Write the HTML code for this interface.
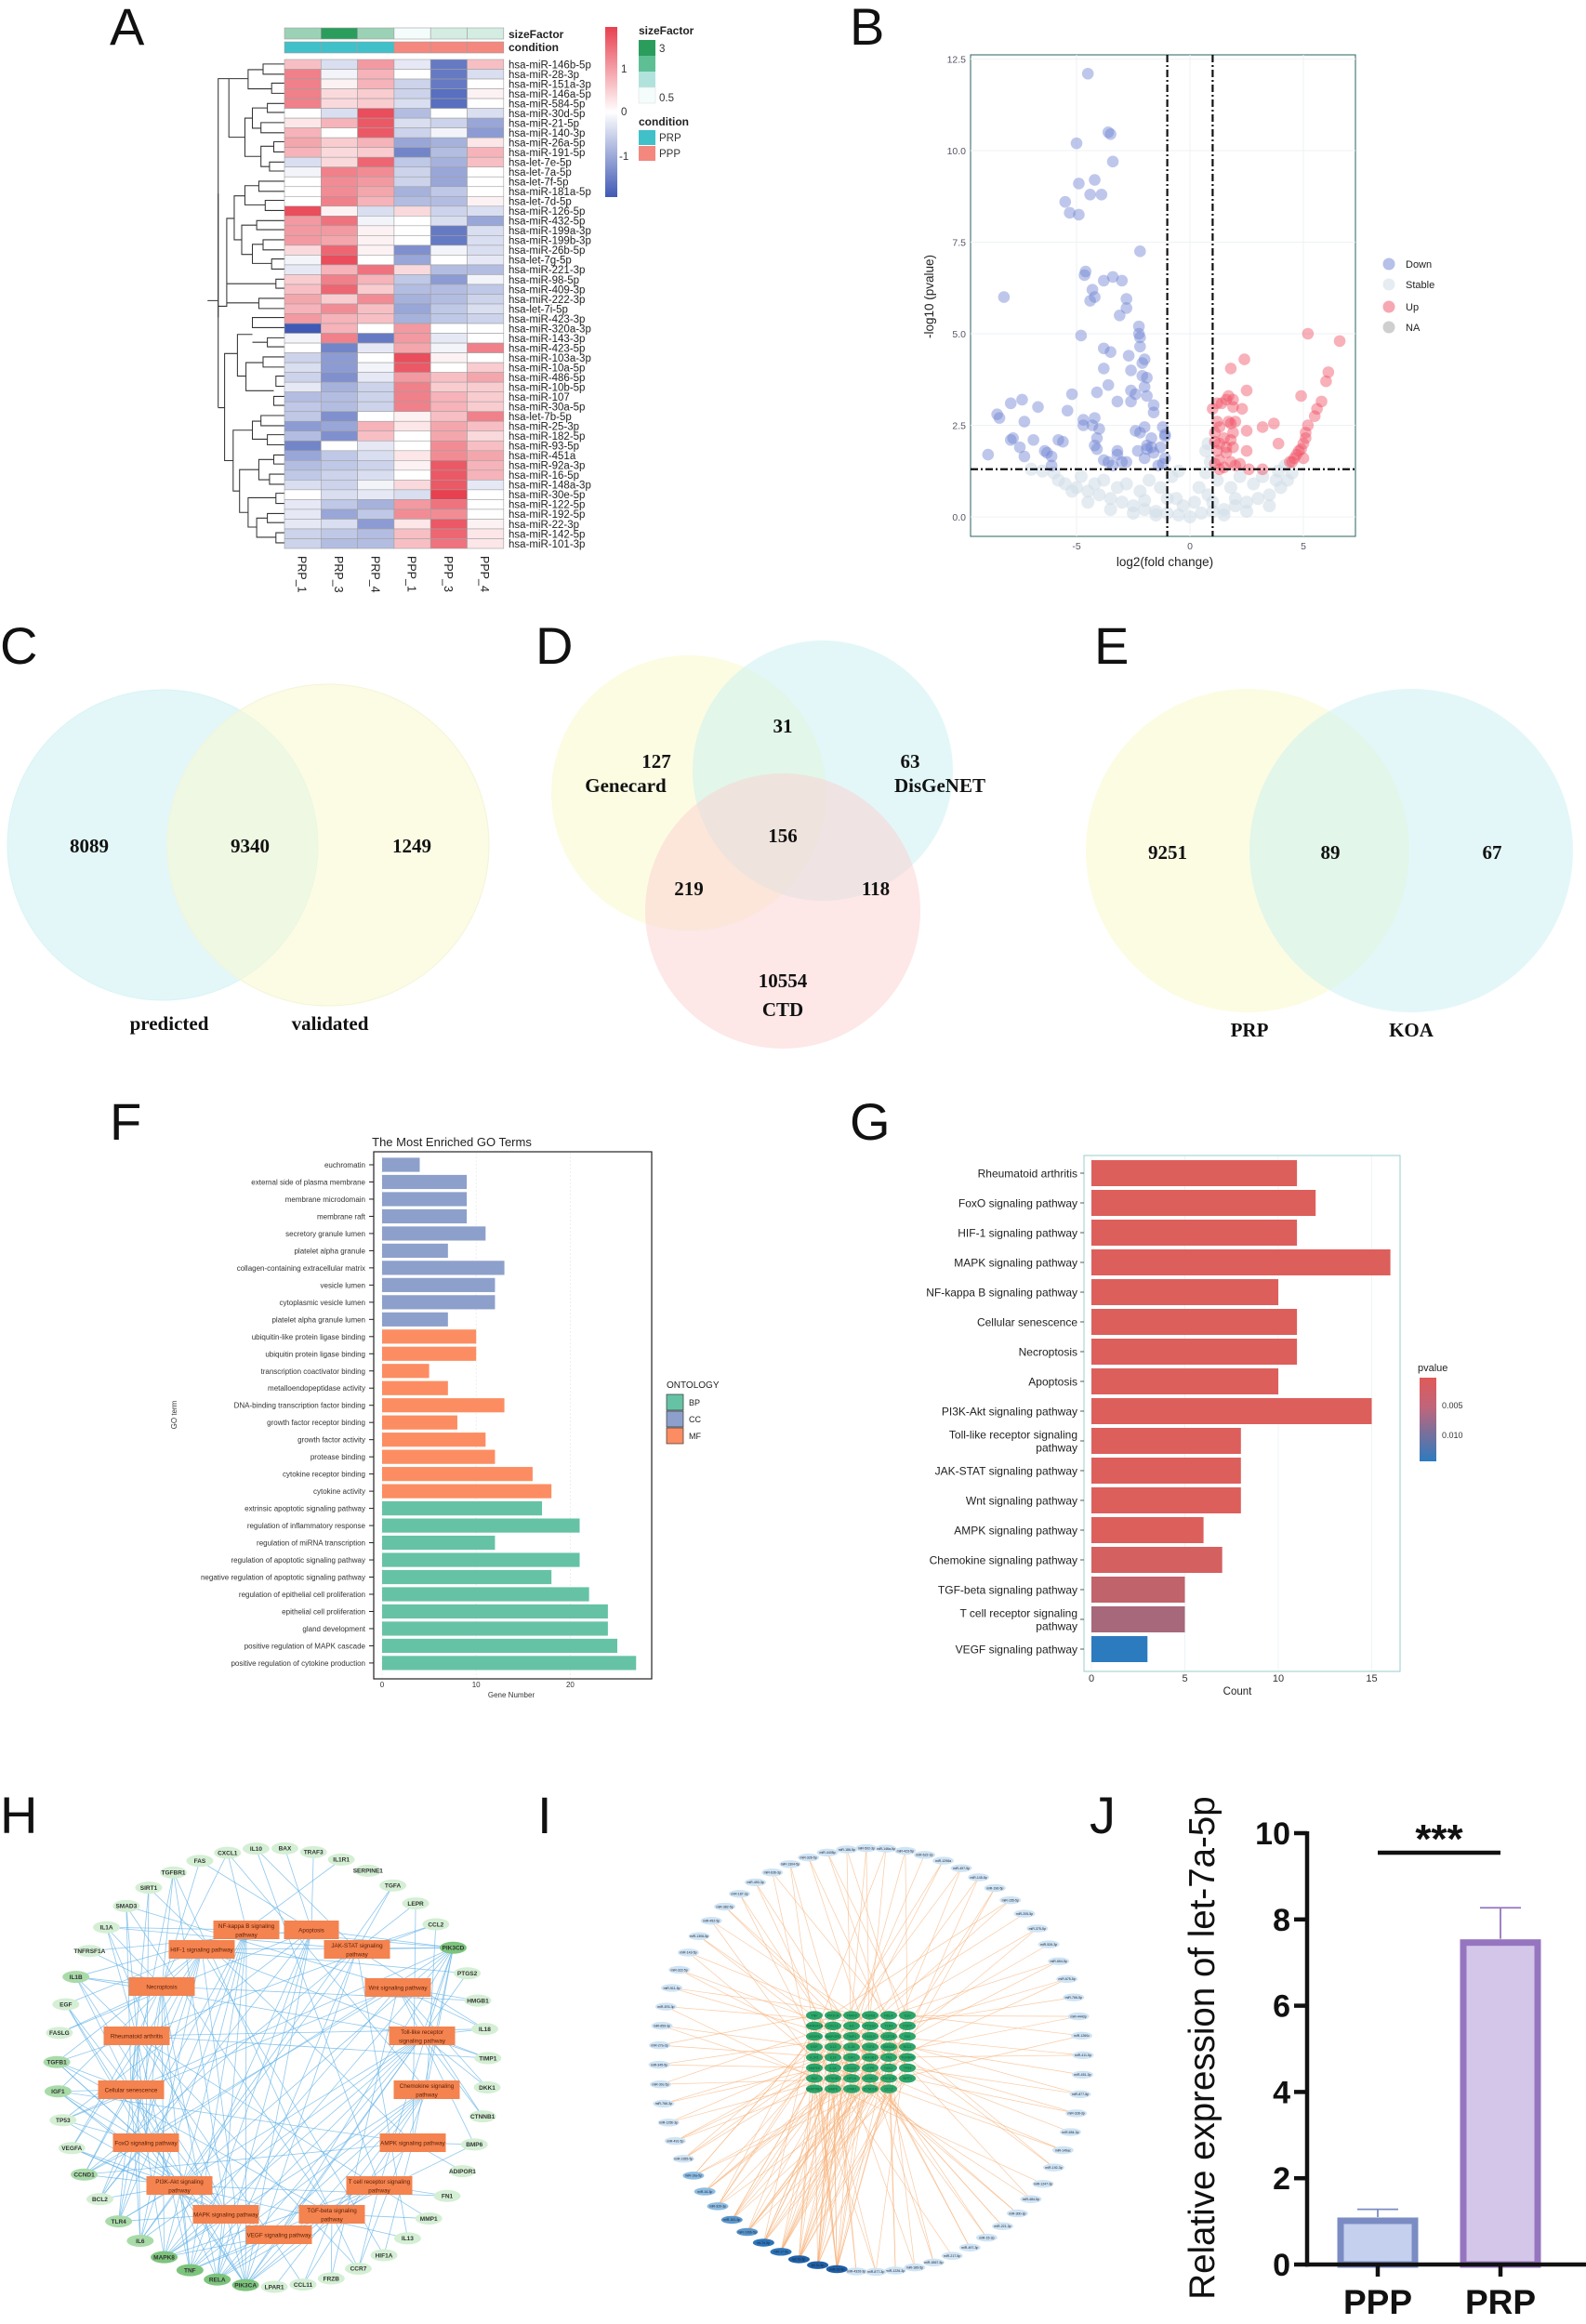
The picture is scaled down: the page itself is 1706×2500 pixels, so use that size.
<!DOCTYPE html>
<html><head><meta charset="utf-8"><title>Figure</title>
<style>
html,body{margin:0;padding:0;background:#fff;}
svg{display:block;font-family:"Liberation Sans",sans-serif;}
.pl{font-family:"Liberation Sans",sans-serif;font-size:56px;fill:#111;}
.vn{font-family:"Liberation Serif",serif;font-weight:bold;font-size:21px;fill:#111;}
</style></head>
<body>
<svg id="fig" width="1706" height="2500" viewBox="0 0 1706 2500" xmlns="http://www.w3.org/2000/svg">
<defs>
<linearGradient id="hmGrad" x1="0" y1="0" x2="0" y2="1"><stop offset="0" stop-color="#e8404f"/><stop offset="0.5" stop-color="#ffffff"/><stop offset="1" stop-color="#4059b5"/></linearGradient>
<linearGradient id="pvGrad" x1="0" y1="0" x2="0" y2="1"><stop offset="0" stop-color="#e05a58"/><stop offset="0.35" stop-color="#c0657a"/><stop offset="1" stop-color="#2d7bbf"/></linearGradient>
</defs>
<text class="pl" x="118" y="48">A</text>
<text class="pl" x="914" y="48">B</text>
<text class="pl" x="0" y="714">C</text>
<text class="pl" x="576" y="714">D</text>
<text class="pl" x="1177" y="714">E</text>
<text class="pl" x="118" y="1226">F</text>
<text class="pl" x="914" y="1226">G</text>
<text class="pl" x="0" y="1972">H</text>
<text class="pl" x="578" y="1972">I</text>
<text class="pl" x="1172" y="1972">J</text>

<g id="heatmap">
 <g id="dendro" fill="none" stroke="#333" stroke-width="0.9" transform="matrix(1.15,0,0,1.212,-29.8,2.2)">
  <path d="M292 55 H272 V64 H292 M292 72 H280 V81 H292 M280 77 H265 M272 60 H258 V77 H265 M258 68 H240 M292 90 H276 V98 H292 M292 107 H270 V116 H292 M276 94 H262 V112 H270 M292 124 H282 V133 H292 M292 142 H278 V150 H292 M282 128 H270 V146 H278 M270 137 H255 V103 H262 M255 120 H240 V68 H230 V280 M292 159 H268 V168 H292 M292 176 H274 V185 H292 M268 163 H255 V180 H274 M292 194 H266 V202 H292 M292 211 H272 V220 H292 M292 228 H280 V237 H292 M272 215 H262 V232 H280 M266 198 H252 V224 H262 M255 172 H245 V211 H252 M245 192 H238 V270 H230 M292 246 H284 V254 H292 M238 250 H284 M292 263 H268 V272 H292 M268 267 H238"/>
  <path d="M292 280 H262 V289 H292 M292 298 H276 V306 H292 M292 315 H272 V324 H292 M276 302 H262 M292 332 H284 V341 H292 M292 350 H282 V358 H292 M272 320 H256 V345 H282 M262 295 H248 V332 H256 M292 367 H270 V376 H292 M292 384 H276 V393 H292 M270 372 H262 V388 H276 M292 402 H282 V410 H292 M292 419 H278 V428 H292 M282 406 H268 V424 H278 M292 436 H284 V445 H292 M292 454 H276 V462 H292 M292 471 H284 V480 H292 M276 458 H266 V475 H284 M284 440 H258 V466 H266 M268 415 H250 V453 H258 M262 380 H244 V434 H250 M248 312 H236 V407 H244 M236 360 H230"/>
  <path d="M230 170 V360 M230 265 H220"/>
 </g>
 <g id="hmCells"></g>
 <g id="hmAnno"></g>
 <text x="547" y="41" font-size="12" font-weight="bold" fill="#222">sizeFactor</text>
 <text x="547" y="55" font-size="12" font-weight="bold" fill="#222">condition</text>
 <rect x="651" y="29" width="13" height="183" fill="url(#hmGrad)"/>
 <text x="668" y="78" font-size="11.5" fill="#333">1</text>
 <text x="668" y="124" font-size="11.5" fill="#333">0</text>
 <text x="666" y="172" font-size="11.5" fill="#333">-1</text>
 <g>
  <text x="687" y="37" font-size="12" font-weight="bold" fill="#222">sizeFactor</text>
  <rect x="687" y="43" width="18" height="17" fill="#2a9d5c"/>
  <rect x="687" y="60" width="18" height="17" fill="#5fbf94"/>
  <rect x="687" y="77" width="18" height="17" fill="#b1e3dc"/>
  <rect x="687" y="94" width="18" height="17" fill="#f4fcfc" stroke="#ddd" stroke-width="0.5"/>
  <text x="709" y="56" font-size="11.5" fill="#333">3</text>
  <text x="709" y="109" font-size="11.5" fill="#333">0.5</text>
 </g>
 <g>
  <text x="687" y="135" font-size="12" font-weight="bold" fill="#222">condition</text>
  <rect x="687" y="140" width="18" height="16" fill="#40c0c8"/>
  <rect x="687" y="157" width="18" height="16" fill="#f4877e"/>
  <text x="709" y="152" font-size="11.5" fill="#333">PRP</text>
  <text x="709" y="169" font-size="11.5" fill="#333">PPP</text>
 </g>
</g>

<g id="volcano">
 <rect x="1044" y="59" width="414" height="518" fill="#fff" stroke="#2a6060" stroke-width="1"/>
 <g id="vGrid"></g>
 <g id="vPts"></g>
 <g id="vAxes"></g>
 <text x="1253" y="609" font-size="13.5" text-anchor="middle" fill="#222">log2(fold change)</text>
 <text transform="translate(1004,319) rotate(-90)" font-size="13.5" text-anchor="middle" fill="#222">-log10 (pvalue)</text>
 <g font-size="11" fill="#222">
  <circle cx="1494" cy="284" r="6.5" fill="rgba(110,130,210,0.5)"/><text x="1512" y="288">Down</text>
  <circle cx="1494" cy="306" r="6.5" fill="rgba(213,223,232,0.6)"/><text x="1512" y="310">Stable</text>
  <circle cx="1494" cy="330" r="6.5" fill="rgba(240,80,100,0.5)"/><text x="1512" y="334">Up</text>
  <circle cx="1494" cy="352" r="6.5" fill="rgba(160,160,160,0.5)"/><text x="1512" y="356">NA</text>
 </g>
</g>

<g id="vennC">
 <circle cx="175" cy="909" r="167" fill="#c8f0f2" fill-opacity="0.5" stroke="#d8f4f5"/>
 <circle cx="353" cy="909" r="173" fill="#fafad0" fill-opacity="0.55" stroke="#f4f4d8"/>
 <text class="vn" x="96" y="917" text-anchor="middle">8089</text>
 <text class="vn" x="269" y="917" text-anchor="middle">9340</text>
 <text class="vn" x="443" y="917" text-anchor="middle">1249</text>
 <text class="vn" x="182" y="1108" text-anchor="middle">predicted</text>
 <text class="vn" x="355" y="1108" text-anchor="middle">validated</text>
</g>
<g id="vennD">
 <circle cx="741" cy="853" r="148" fill="#fafad0" fill-opacity="0.6"/>
 <circle cx="885" cy="829" r="140" fill="#c8f0f2" fill-opacity="0.5"/>
 <circle cx="842" cy="980" r="148" fill="#fcd0d0" fill-opacity="0.5"/>
 <text class="vn" x="842" y="788" text-anchor="middle">31</text>
 <text class="vn" x="706" y="826" text-anchor="middle">127</text>
 <text class="vn" x="673" y="852" text-anchor="middle">Genecard</text>
 <text class="vn" x="979" y="826" text-anchor="middle">63</text>
 <text class="vn" x="1011" y="852" text-anchor="middle">DisGeNET</text>
 <text class="vn" x="842" y="906" text-anchor="middle">156</text>
 <text class="vn" x="741" y="963" text-anchor="middle">219</text>
 <text class="vn" x="942" y="963" text-anchor="middle">118</text>
 <text class="vn" x="842" y="1062" text-anchor="middle">10554</text>
 <text class="vn" x="842" y="1093" text-anchor="middle">CTD</text>
</g>
<g id="vennE">
 <circle cx="1342" cy="915" r="174" fill="#fafad0" fill-opacity="0.6"/>
 <circle cx="1518" cy="915" r="174" fill="#c8f0f2" fill-opacity="0.5"/>
 <text class="vn" x="1256" y="924" text-anchor="middle">9251</text>
 <text class="vn" x="1431" y="924" text-anchor="middle">89</text>
 <text class="vn" x="1605" y="924" text-anchor="middle">67</text>
 <text class="vn" x="1344" y="1115" text-anchor="middle">PRP</text>
 <text class="vn" x="1518" y="1115" text-anchor="middle">KOA</text>
</g>

<g id="goChart">
 <text x="486" y="1233" font-size="13" text-anchor="middle" fill="#222">The Most Enriched GO Terms</text>
 <rect x="402" y="1239" width="299" height="567" fill="#fff" stroke="#222" stroke-width="1.2"/>
 <g id="goG"></g>
 <text x="550" y="1826" font-size="8" text-anchor="middle" fill="#333">Gene  Number</text>
 <text transform="translate(190,1522) rotate(-90)" font-size="8" text-anchor="middle" fill="#333">GO term</text>
 <g>
  <text x="717" y="1493" font-size="10" fill="#222">ONTOLOGY</text>
  <rect x="717" y="1500" width="18" height="17" fill="#66c2a5" stroke="#333" stroke-width="0.7"/>
  <rect x="717" y="1518" width="18" height="17" fill="#8da0cb" stroke="#333" stroke-width="0.7"/>
  <rect x="717" y="1536" width="18" height="17" fill="#fc8d62" stroke="#333" stroke-width="0.7"/>
  <text x="741" y="1512" font-size="9" fill="#222">BP</text>
  <text x="741" y="1530" font-size="9" fill="#222">CC</text>
  <text x="741" y="1548" font-size="9" fill="#222">MF</text>
 </g>
</g>

<g id="keggChart">
 <rect x="1166" y="1243" width="340" height="555" fill="#fff" stroke="#9cc" stroke-width="1"/>
 <g id="keggG"></g>
 <text x="1331" y="1823" font-size="11.5" text-anchor="middle" fill="#222">Count</text>
 <g>
  <text x="1525" y="1475" font-size="11" fill="#222">pvalue</text>
  <rect x="1527" y="1482" width="18" height="90" fill="url(#pvGrad)"/>
  <text x="1551" y="1515" font-size="9" fill="#333">0.005</text>
  <text x="1551" y="1547" font-size="9" fill="#333">0.010</text>
 </g>
</g>

<g id="netH"></g>
<g id="netI"></g>

<g id="barJ">
 <g id="jG"></g>
 <text transform="translate(1306,2203) rotate(-90)" font-size="38.5" text-anchor="middle" fill="#111">Relative expression of let-7a-5p</text>
</g>

<script>
const NS='http://www.w3.org/2000/svg';
function mk(tag,attrs,parent){const e=document.createElementNS(NS,tag);for(const k in attrs)e.setAttribute(k,attrs[k]);parent.appendChild(e);return e;}

const hmRows=['hsa-miR-146b-5p','hsa-miR-28-3p','hsa-miR-151a-3p','hsa-miR-146a-5p','hsa-miR-584-5p','hsa-miR-30d-5p','hsa-miR-21-5p','hsa-miR-140-3p','hsa-miR-26a-5p','hsa-miR-191-5p','hsa-let-7e-5p','hsa-let-7a-5p','hsa-let-7f-5p','hsa-miR-181a-5p','hsa-let-7d-5p','hsa-miR-126-5p','hsa-miR-432-5p','hsa-miR-199a-3p','hsa-miR-199b-3p','hsa-miR-26b-5p','hsa-let-7g-5p','hsa-miR-221-3p','hsa-miR-98-5p','hsa-miR-409-3p','hsa-miR-222-3p','hsa-let-7i-5p','hsa-miR-423-3p','hsa-miR-320a-3p','hsa-miR-143-3p','hsa-miR-423-5p','hsa-miR-103a-3p','hsa-miR-10a-5p','hsa-miR-486-5p','hsa-miR-10b-5p','hsa-miR-107','hsa-miR-30a-5p','hsa-let-7b-5p','hsa-miR-25-3p','hsa-miR-182-5p','hsa-miR-93-5p','hsa-miR-451a','hsa-miR-92a-3p','hsa-miR-16-5p','hsa-miR-148a-3p','hsa-miR-30e-5p','hsa-miR-122-5p','hsa-miR-192-5p','hsa-miR-22-3p','hsa-miR-142-5p','hsa-miR-101-3p'];
const hmCols=['PRP_1','PRP_3','PRP_4','PPP_1','PPP_3','PPP_4'];
const hmValues=[
[0.5,-0.3,0.8,-0.2,-1.2,0.5],[1,-0.1,0.6,0,-1.2,-0.3],[1,0.1,0.6,-0.4,-1.2,0],[1,0.3,0.4,-0.4,-1.3,0.1],[1,0.3,0.4,-0.3,-1.3,0],
[0,-0.3,1.4,-0.6,0,-0.3],[0.2,0.6,1.3,-0.3,-0.4,-0.8],[0.6,0,1.3,-0.4,-0.1,-0.9],[0.7,0.4,0.6,-0.8,-0.7,0.2],[0.6,0.3,0.4,-1.1,-0.6,0.6],
[-0.3,0.3,1.2,-0.5,-0.7,0.5],[-0.1,1,0.9,-0.4,-0.8,0],[0,0.9,0.8,-0.4,-0.8,0],[0,0.9,0.7,-0.7,-0.5,0],[0,1,0.6,-0.6,-0.6,0.1],
[1.4,0.1,-0.3,0.3,-0.4,-0.3],[0.8,1.1,-0.1,0,-0.3,-0.8],[0.8,0.8,0.1,0,-1.2,-0.3],[0.8,0.7,0.1,0,-1.2,-0.3],[0.3,1.2,0.1,-1,-0.1,-0.3],
[-0.1,1.4,0,-0.8,0,-0.2],[-0.2,0.6,1.1,0.3,-0.6,-0.6],[0.4,1,0.6,-0.5,-0.9,-0.1],[0.5,1.2,0.4,-0.6,-0.6,-0.5],[0.7,0.4,0.9,-0.7,-0.6,-0.4],
[0.6,0.9,0.5,-0.8,-0.5,-0.3],[0.8,0.6,0.5,-0.7,-0.5,-0.4],[-1.5,0.6,0,0.8,0,0],[-0.1,1,-1.2,0.8,-0.2,0],[0,-1.1,-0.2,0.7,-0.1,1],
[-0.4,-0.9,0,1.4,0.1,0],[-0.3,-0.9,-0.1,1.3,0,0.4],[-0.4,-1,-0.2,0.8,0.5,0.7],[-0.2,-0.7,-0.4,1,0.4,0.4],[-0.6,-0.6,-0.4,1,0.6,0.4],
[-0.5,-0.6,-0.4,1,0.6,0.4],[-0.5,-1,0,0.1,0.5,1],[-0.9,-0.8,0.6,0.2,0.7,0.5],[-0.6,-1,0.5,0,0.7,0.3],[-1.1,0,-0.2,0,0.9,0.5],
[-0.8,-0.5,-0.3,0.2,0.9,0.7],[-0.6,-0.5,-0.4,0.1,1.3,0.6],[-0.5,-0.4,-0.3,0,1.3,0.6],[-0.3,-0.4,-0.1,0.3,1.3,-0.2],[0,-0.3,-0.2,-0.3,1.5,0],
[-0.2,-0.5,-0.7,0.8,1.1,0],[-0.2,-0.8,-0.5,0.9,0.9,0],[-0.2,-0.3,-0.9,0.2,1.3,0.1],[-0.4,-0.5,-0.6,0.5,1.2,0.2],[-0.4,-0.6,-0.6,0.5,1.1,0.2]];
const hmSizeFactor=[1.6,3,1.6,0.5,0.9,0.9];

const volDown=[[-4.5,12.1],[-3.6,10.5],[-3.5,10.45],[-5,10.2],[-3.4,9.7],[-4.2,9.2],[-4.9,9.1],[-4.4,8.8],[-3.9,8.8],[-5.5,8.6],[-5.3,8.3],[-4.9,8.25],[-2.2,7.25],[-4.6,6.7],[-4.65,6.6],[-3.4,6.55],[-3.8,6.45],[-3.0,6.45],[-4.3,6.2],[-4.2,6.0],[-4.4,5.9],[-8.2,6.0],[-2.8,5.95],[-2.8,5.7],[-3.1,5.5],[-2.25,5.2],[-2.25,5.0],[-2.2,4.9],[-4.8,4.95],[-2.2,4.65],[-3.8,4.6],[-3.5,4.5],[-2.7,4.4],[-2,4.3],[-2.1,4.2],[-3.8,4.05],[-2.6,4.0],[-2.1,3.85],[-1.9,3.8],[-3.6,3.6],[-2,3.55],[-4.1,3.4],[-5.2,3.35],[-2.6,3.45],[-2.4,3.35],[-1.9,3.3],[-3.2,3.15],[-2.6,3.15],[-7.4,3.2],[-7.9,3.1],[-1.6,3.05],[-6.7,3.0],[-5.4,2.9],[-1.6,2.85],[-8.5,2.8],[-8.4,2.7],[-4.7,2.65],[-4.2,2.7],[-7.3,2.6],[-4.7,2.5],[-4.3,2.5],[-1.2,2.45],[-2,2.45],[-4.0,2.4],[-2.4,2.35],[-2.2,2.3],[-1.1,2.25],[-1.1,2.2],[-4.1,2.15],[-1.7,2.15],[-7.8,2.15],[-7.9,2.1],[-6.9,2.1],[-5.8,2.1],[-5.6,2.05],[-4.2,1.95],[-1.9,1.95],[-1.7,1.9],[-1.3,1.9],[-7.5,1.9],[-4.1,1.85],[-1.9,1.85],[-2.3,1.8],[-6.4,1.8],[-6.3,1.75],[-3.2,1.8],[-1.6,1.75],[-3.2,1.7],[-8.9,1.7],[-7.3,1.65],[-6.1,1.65],[-2.0,1.6],[-1.1,1.6],[-3.0,1.5],[-2.8,1.5],[-3.8,1.55],[-3.6,1.5],[-6.1,1.4],[-3.4,1.4],[-1.4,1.4],[-1.2,1.45]];
const volUp=[[5.2,5.0],[6.6,4.8],[2.4,4.3],[1.8,4.05],[6.1,3.95],[6.0,3.7],[2.5,3.45],[4.9,3.3],[1.7,3.3],[1.6,3.2],[1.9,3.2],[1.2,3.1],[1.4,3.1],[5.8,3.15],[1.9,3.0],[2.3,2.95],[5.6,2.95],[1.0,2.95],[5.5,2.75],[2.0,2.6],[1.2,2.6],[1.7,2.6],[1.8,2.55],[3.7,2.55],[5.2,2.5],[1.3,2.45],[3.2,2.45],[2.5,2.35],[1.1,2.3],[1.9,2.3],[5.1,2.3],[5.1,2.15],[1.5,2.15],[1.8,2.1],[1.1,2.05],[1.3,2.0],[3.9,2.0],[5.0,2.0],[1.6,1.9],[1.9,1.9],[4.9,1.85],[4.8,1.8],[1.2,1.8],[2.5,1.8],[1.6,1.75],[4.7,1.7],[4.6,1.6],[5.0,1.6],[1.3,1.55],[4.5,1.5],[4.4,1.5],[1.8,1.5],[2.2,1.45],[1.1,1.45],[2.0,1.4],[1.5,1.35],[3.2,1.3],[2.6,1.3],[1.3,1.3]];
const volStable=[[-6,1.2],[-5.5,0.9],[-5,0.8],[-4.5,0.7],[-4,0.6],[-3.5,0.5],[-3,0.4],[-2.5,0.3],[-2,0.2],[-1.5,0.15],[-1,0.1],[-0.5,0.05],[0,0],[0.5,0.1],[1,0.15],[1.5,0.2],[2,0.3],[2.5,0.4],[3,0.5],[3.5,0.6],[4,0.8],[4.3,1.0],[4.5,1.2],[-5.8,1.0],[-5.2,0.7],[-4.8,1.1],[-4.2,0.9],[-3.8,1.0],[-3.2,0.8],[-2.8,0.9],[-2.2,0.7],[-1.8,1.0],[-1.3,0.8],[-0.8,1.1],[-0.6,0.5],[-0.3,0.3],[0.2,0.4],[0.4,0.8],[0.7,1.2],[0.8,0.6],[1.2,1.0],[1.8,0.8],[2.2,1.1],[2.8,0.9],[3.2,1.1],[3.8,1.0],[-4.5,0.4],[-3.5,0.2],[-2.5,0.1],[-1.5,0.05],[1.5,0.05],[2.5,0.15],[3.5,0.3],[-6.5,1.25],[-7,1.3],[0.9,1.5],[0.7,1.8],[0.8,2.0],[-0.5,1.25],[3.9,1.25],[4.2,1.4],[-1.0,0.5],[1.0,0.4],[-2,0.45],[2,0.5]];
const volYTicks=[0,2.5,5,7.5,10,12.5];
const volYTickLabels=['0.0','2.5','5.0','7.5','10.0','12.5'];
const volXTicks=[-5,0,5];

const goTerms=['euchromatin','external side of plasma membrane','membrane microdomain','membrane raft','secretory granule lumen','platelet alpha granule','collagen-containing extracellular matrix','vesicle lumen','cytoplasmic vesicle lumen','platelet alpha granule lumen','ubiquitin-like protein ligase binding','ubiquitin protein ligase binding','transcription coactivator binding','metalloendopeptidase activity','DNA-binding transcription factor binding','growth factor receptor binding','growth factor activity','protease binding','cytokine receptor binding','cytokine activity','extrinsic apoptotic signaling pathway','regulation of inflammatory response','regulation of miRNA transcription','regulation of apoptotic signaling pathway','negative regulation of apoptotic signaling pathway','regulation of epithelial cell proliferation','epithelial cell proliferation','gland development','positive regulation of MAPK cascade','positive regulation of cytokine production'];
const goCounts=[4,9,9,9,11,7,13,12,12,7,10,10,5,7,13,8,11,12,16,18,17,21,12,21,18,22,24,24,25,27];
const goOntology=['CC','CC','CC','CC','CC','CC','CC','CC','CC','CC','MF','MF','MF','MF','MF','MF','MF','MF','MF','MF','BP','BP','BP','BP','BP','BP','BP','BP','BP','BP'];
const goXTicks=[0,10,20];

const keggTerms=['Rheumatoid arthritis','FoxO signaling pathway','HIF-1 signaling pathway','MAPK signaling pathway','NF-kappa B signaling pathway','Cellular senescence','Necroptosis','Apoptosis','PI3K-Akt signaling pathway','Toll-like receptor signaling|pathway','JAK-STAT signaling pathway','Wnt signaling pathway','AMPK signaling pathway','Chemokine signaling pathway','TGF-beta signaling pathway','T cell receptor signaling|pathway','VEGF signaling pathway'];
const keggCounts=[11,12,11,16,10,11,11,10,15,8,8,8,6,7,5,5,3];
const keggPvalues=[0.001,0.001,0.001,0.001,0.001,0.001,0.001,0.001,0.001,0.001,0.001,0.001,0.001,0.0015,0.003,0.005,0.014];
const keggXTicks=[0,5,10,15];

const jGroups=['PPP','PRP'];
const jMeans=[1.1,7.55];
const jErrors=[0.18,0.72];
const jYTicks=[0,2,4,6,8,10];

const hGenes=['CXCL1','IL10','BAX','TRAF3','IL1R1','SERPINE1','TGFA','LEPR','CCL2','PIK3CD','PTGS2','HMGB1','IL18','TIMP1','DKK1','CTNNB1','BMP6','ADIPOR1','FN1','MMP1','IL13','HIF1A','CCR7','FRZB','CCL11','LPAR1','PIK3CA','RELA','TNF','MAPK8','IL6','TLR4','BCL2','CCND1','VEGFA','TP53','IGF1','TGFB1','FASLG','EGF','IL1B','TNFRSF1A','IL1A','SMAD3','SIRT1','TGFBR1','FAS'];
const hPathways=['NF-kappa B signaling|pathway','Apoptosis','HIF-1 signaling pathway','JAK-STAT signaling|pathway','Necroptosis','Wnt signaling pathway','Rheumatoid arthritis','Toll-like receptor|signaling pathway','Cellular senescence','Chemokine signaling|pathway','FoxO signaling pathway','AMPK signaling pathway','PI3K-Akt signaling|pathway','T cell receptor signaling|pathway','MAPK signaling pathway','TGF-beta signaling|pathway','VEGF signaling pathway'];
const hPathPos=[[265,2076],[335,2076],[217,2097],[384,2097],[174,2137],[428,2138],[147,2190],[454,2190],[141,2248],[459,2248],[157,2305],[444,2305],[193,2351],[408,2351],[243,2382],[357,2382],[300,2404]];
const hLinks=[[0,27,28,30,40,31,32,9,26,29,42,4],[2,3,28,27,46,38,32,35,41,26,9,29],[21,34,26,9,30,39,36,31,33,32,37,10,13],[1,30,7,8,26,9,20,33,6,12,42,27],[28,41,46,38,40,42,29,31,11,27],[15,14,23,33,29,35,16,43,11,12],[0,8,24,40,42,30,28,31,22,34,12,13,19,37],[28,30,40,31,26,9,27,29,12,13,14,15],[35,33,26,9,37,43,45,44,36,30,27,40],[0,8,24,22,26,9,27,29,25,28],[26,9,37,45,43,44,36,33,39,29,32,35],[7,17,26,9,44,33,36,16,21],[26,9,34,39,36,33,32,35,31,28,30,6,18,20],[28,26,9,27,29,1,22,18],[28,40,42,29,26,9,27,31,37,45,39,34,36],[37,45,43,28,16,19,23,24,22],[34,26,9,10,29,27]];

const iMirnas=['miR-146a-5p','miR-423-5p','miR-622-3p','miR-1296a','miR-497-5p','miR-145-5p','miR-196-5p','miR-155-5p','miR-205-5p','miR-375-5p','miR-526-3p','miR-654-5p','miR-675-5p','miR-766-5p','miR-4443p','miR-1260c','miR-411-5p','miR-451-3p','miR-877-5p','miR-328-3p','miR-654-3p','miR-149ac','miR-192-3p','miR-1247-3p','miR-484-5p','miR-30b-3p','miR-221-3p','miR-15-3p','miR-497-3p','miR-217-5p','miR-4567-5p','miR-185-5p','miR-1226-3p','miR-877-3p','miR-4326-3p','miR-16-5p','let-7c-5p','let-7a-5p','miR-17-5p','let-7e-5p','miR-106b-5p','miR-181-5p','miR-320-3p','miR-16-3p','miR-19a-5p','miR-2355-5p','miR-491-5p','miR-125b-3p','miR-766-3p','miR-30c-5p','miR-345-5p','miR-27a-3p','miR-659-3p','miR-876-3p','miR-511-5p','miR-322-5p','miR-143-5p','miR-1306-5p','miR-452-5p','miR-382-5p','miR-187-3p','miR-490-3p','miR-636-3p','miR-1304-5p','miR-326-5p','miR-4435p','miR-186-5p','miR-502-3p'];
const iTargets=[[3,12],[5,20],[8],[14,30],[2,22],[9,17],[11,40],[6,25],[13],[19,33],[21],[27,4],[15,38],[10],[1,30],[5,44],[16,28],[23],[7,35],[12,41],[20],[18,31],[29,3],[36],[24,9],[32,45],[0,26],[14,39],[8,27],[37],[2,46],[22,13],[10,34],[6,17,42],[25,1],
[0,3,7,12,18,22,27,31,36,40,44,5],[2,8,13,19,24,29,33,38,43,46],[1,6,11,16,21,26,30,35,41,45,9],[4,10,15,20,25,28,34,39,42],[0,5,9,14,23,32,37,46],[3,7,17,22,28,33,41],[2,11,19,26,31,40],[6,13,24,35,43],[8,16,27,38],[1,12,29,45],[4,18,36],[10,21,42],
[15,33],[20,27],[7,39],[14,31],[0,25],[18,44],[11,36],[3,29],[22,40],[9,24],[6,34],[16,43],[1,28],[13,37],[19,46],[4,30],[12,38],[21,35],[5,41],[17,26],[2,45]];
const iGenes=['TNF','PIK3CA','TRAF3','TGFB1','RELA','IL10','TNFRSF1A','CXCL1','IL6','PTGS2','TLR4','CCR7','VEGFA','ADIPOR1','TIMP1','FASLG','CCR7B','FAS','EGF','IL13','IL1B','TGFA','SMAD3','BCL2','IL1R1','IL18','IGF1','HMGB1','FN1','TGFBR1','MAPK8','IL1A','CCL11','LEPR','DKK1','TP53','BAX','CTNNB1','HIF1A','CCND1','PIK3CD','SIRT1','SERPINE1','BMP6','LPAR1','CCND1B','CCL2'];

(function(){
 const g=document.getElementById('hmCells');const a=document.getElementById('hmAnno');
 const x0=306,cw=39.3,y0=64,rh=10.52;
 function col(v){const t=Math.min(Math.abs(v)/1.5,1);const c=v>=0?[232,64,79]:[64,89,181];
  const r=Math.round(255+(c[0]-255)*t),gg=Math.round(255+(c[1]-255)*t),b=Math.round(255+(c[2]-255)*t);return `rgb(${r},${gg},${b})`;}
 function sf(v){const t=Math.min((v-0.5)/2.5,1);const r=Math.round(244+(42-244)*t),gg=Math.round(252+(157-252)*t),b=Math.round(252+(92-252)*t);return `rgb(${r},${gg},${b})`;}
 hmRows.forEach((name,i)=>{
  hmCols.forEach((c,j)=>{
   const r=mk('rect',{x:x0+j*cw,y:y0+i*rh,width:cw,height:rh,fill:col(hmValues[i][j]),stroke:'#a0a0a0','stroke-width':0.6},g);
   
   
  });
  const t=mk('text',{x:547,y:y0+i*rh+rh-1.2,'font-size':11.5,fill:'#222'},g);
  t.textContent=name;
  
  
 });
 hmCols.forEach((c,j)=>{
  const s=mk('rect',{x:x0+j*cw,y:30,width:cw,height:12,fill:sf(hmSizeFactor[j]),stroke:'#a0a0a0','stroke-width':0.6},a);
  
  
  const k=mk('rect',{x:x0+j*cw,y:45,width:cw,height:12,fill:c.startsWith('PRP')?'#40c0c8':'#f4877e',stroke:'#a0a0a0','stroke-width':0.6},a);
  
  
  const t=mk('text',{transform:`translate(${x0+j*cw+cw/2-5},598) rotate(90)`,'font-size':12.5,fill:'#222'},a);
  t.textContent=c;
  
  
 });
})();

(function(){
 const px=x=>1280+x*24.4, py=y=>556-y*39.4;
 const gr=document.getElementById('vGrid'),pt=document.getElementById('vPts'),ax=document.getElementById('vAxes');
 volYTicks.forEach((v,i)=>{
  const l=mk('line',{x1:1044,x2:1458,y1:py(v),y2:py(v),stroke:'#eef2f4','stroke-width':1},gr);
  
  
  const t=mk('text',{x:1039,y:py(v)+4,'font-size':10.5,'text-anchor':'end',fill:'#556'},ax);
  t.textContent=volYTickLabels[i];
  
  
 });
 volXTicks.forEach(v=>{
  const l=mk('line',{x1:px(v),x2:px(v),y1:59,y2:577,stroke:'#eef2f4','stroke-width':1},gr);
  
  
  const t=mk('text',{x:px(v),y:591,'font-size':10.5,'text-anchor':'middle',fill:'#556'},ax);
  t.textContent=String(v);
  
  
 });
 volStable.forEach(p=>{const c=mk('circle',{cx:px(p[0]),cy:py(p[1]),r:7,fill:'rgba(210,222,232,0.6)'},pt);
  
  });
 volDown.forEach(p=>{const c=mk('circle',{cx:px(p[0]),cy:py(p[1]),r:6.3,fill:'rgba(110,130,210,0.45)'},pt);
  
  });
 volUp.forEach(p=>{const c=mk('circle',{cx:px(p[0]),cy:py(p[1]),r:6.3,fill:'rgba(240,80,100,0.45)'},pt);
  
  });
 [-1,1].forEach(v=>{const l=mk('line',{x1:px(v),x2:px(v),y1:59,y2:577,stroke:'#111','stroke-width':2.2,'stroke-dasharray':'8 3 2 3'},ax);
  
  });
 const h=mk('line',{x1:1044,x2:1458,y1:py(1.3),y2:py(1.3),stroke:'#111','stroke-width':2.2,'stroke-dasharray':'8 3 2 3'},ax);
 
 
})();

(function(){
 const g=document.getElementById('goG');const px=v=>411+v*10.12;const colors={BP:'#66c2a5',CC:'#8da0cb',MF:'#fc8d62'};
 goXTicks.forEach(v=>{
  const l=mk('line',{x1:px(v),x2:px(v),y1:1240,y2:1805,stroke:'#e3ecf2','stroke-width':0.8,'stroke-dasharray':'2 2'},g);
  
  
  const t=mk('text',{x:px(v),y:1815,'font-size':8,'text-anchor':'middle',fill:'#333'},g);
  t.textContent=String(v);
  
  
 });
 goTerms.forEach((name,i)=>{
  const yc=1253+i*18.48;
  const r=mk('rect',{x:px(0),y:yc-7.6,width:px(goCounts[i])-px(0),height:15.2,fill:colors[goOntology[i]]},g);
  
  
  const tk=mk('line',{x1:397,x2:402,y1:yc,y2:yc,stroke:'#222','stroke-width':1},g);
  
  
  const t=mk('text',{x:393,y:yc+3,'font-size':8,'text-anchor':'end',fill:'#333'},g);
  t.textContent=name;
  
  
 });
})();

(function(){
 const g=document.getElementById('keggG');const px=v=>1174+v*20.1;
 function pcol(p){const t=Math.min(Math.max((p-0.001)/0.013,0),1);const r=Math.round(220+(45-220)*t),gg=Math.round(95+(123-95)*t),b=Math.round(92+(191-92)*t);return `rgb(${r},${gg},${b})`;}
 keggXTicks.forEach(v=>{
  const l=mk('line',{x1:px(v),x2:px(v),y1:1244,y2:1797,stroke:'#eef4f6','stroke-width':1},g);
  
  
  const t=mk('text',{x:px(v),y:1809,'font-size':11,'text-anchor':'middle',fill:'#333'},g);
  t.textContent=String(v);
  
  
 });
 keggTerms.forEach((name,i)=>{
  const yc=1262+i*32;
  const r=mk('rect',{x:px(0),y:yc-14,width:px(keggCounts[i])-px(0),height:28,fill:pcol(keggPvalues[i])},g);
  
  
  const tk=mk('line',{x1:1162,x2:1166,y1:yc,y2:yc,stroke:'#333','stroke-width':0.8},g);
  
  
  const parts=name.split('|');
  parts.forEach((p,k)=>{
   const t=mk('text',{x:1159,y:yc+4.5+(parts.length>1?(k===0?-7:7):0),'font-size':12,'text-anchor':'end',fill:'#222'},g);
   t.textContent=p;
   
   
  });
 });
})();

(function(){
 const g=document.getElementById('netH');const cx=293,cy=2224,RX=232,RY=236;
 const gpos=hGenes.map((n,i)=>{const a=(-12+i*360/hGenes.length)*Math.PI/180;return [cx+RX*Math.sin(a),cy-RY*Math.cos(a)];});
 const eg=mk('g',{},g);
 
 
 hLinks.forEach((lst,p)=>{lst.forEach(gi=>{
  const l=mk('line',{x1:hPathPos[p][0],y1:hPathPos[p][1],x2:gpos[gi][0],y2:gpos[gi][1],stroke:'#5fb0e6','stroke-width':0.8,'stroke-opacity':0.7},eg);
  
  
 });});
 const deg=hGenes.map(()=>0);hLinks.forEach(l=>l.forEach(i=>deg[i]++));
 hGenes.forEach((n,i)=>{
  const d=deg[i];const fill=d>=10?'#7cc47c':d>=6?'#a9dba9':'#d4efd4';
  const e=mk('ellipse',{cx:gpos[i][0],cy:gpos[i][1],rx:14.5,ry:6.5,fill:fill},g);
  
  
  const t=mk('text',{x:gpos[i][0],y:gpos[i][1]+2.3,'font-size':6.5,'font-weight':'bold','text-anchor':'middle',fill:'#333'},g);
  t.textContent=n;
  
  
 });
 hPathways.forEach((n,i)=>{
  const w=n==='Apoptosis'?59:71,h=20;
  const r=mk('rect',{x:hPathPos[i][0]-w/2,y:hPathPos[i][1]-h/2,width:w,height:h,fill:'#f4834f'},g);
  
  
  const parts=n.split('|');
  parts.forEach((p,k)=>{
   const t=mk('text',{x:hPathPos[i][0],y:hPathPos[i][1]+2.3+(parts.length>1?(k===0?-4.5:5):0),'font-size':6.3,'text-anchor':'middle',fill:'#5a1e05'},g);
   t.textContent=p;
   
   
  });
 });
})();

(function(){
 const g=document.getElementById('netI');const cx=937,cy=2216,RX=228,RY=228;
 const gp=iGenes.map((n,i)=>[876+(i%6)*20,2168+Math.floor(i/6)*11.3]);
 const mp=iMirnas.map((n,i)=>{const a=(i*360/iMirnas.length+4)*Math.PI/180;return [cx+RX*Math.sin(a),cy-RY*Math.cos(a)];});
 const eg=mk('g',{},g);
 
 
 iTargets.forEach((lst,m)=>{lst.forEach(gi=>{
  const l=mk('line',{x1:mp[m][0],y1:mp[m][1],x2:gp[gi][0],y2:gp[gi][1],stroke:'#f7b27a','stroke-width':0.7,'stroke-opacity':0.7},eg);
  
  
 });});
 iMirnas.forEach((n,i)=>{
  const d=iTargets[i].length;const fill=d>=10?'#1f5fa5':d>=8?'#2c74b8':d>=6?'#5a97cc':d>=4?'#8dbde2':'#cfe4f4';
  const e=mk('ellipse',{cx:mp[i][0],cy:mp[i][1],rx:11.5,ry:4.2,fill:fill},g);
  
  
  const t=mk('text',{x:mp[i][0],y:mp[i][1]+1.3,'font-size':3.5,'text-anchor':'middle',fill:'#223'},g);
  t.textContent=n;
  
  
 });
 iGenes.forEach((n,i)=>{
  const e=mk('ellipse',{cx:gp[i][0],cy:gp[i][1],rx:9,ry:4.7,fill:'#2ea56a'},g);
  
  
  const t=mk('text',{x:gp[i][0],y:gp[i][1]+1.3,'font-size':3.5,'text-anchor':'middle',fill:'#063'},g);
  t.textContent=n;
  
  
 });
})();

(function(){
 const g=document.getElementById('jG');const py=v=>2436-v*46.4;const xs=[1482,1614];
 const fills=['#c4d0ee','#d3c6e8'],strokes=['#7b8cc4','#9675c0'];
 jMeans.forEach((m,i)=>{
  const e=mk('line',{x1:xs[i],x2:xs[i],y1:py(m),y2:py(m+jErrors[i]),stroke:strokes[i],'stroke-width':1.8},g);
  
  
  const c=mk('line',{x1:xs[i]-22,x2:xs[i]+22,y1:py(m+jErrors[i]),y2:py(m+jErrors[i]),stroke:strokes[i],'stroke-width':1.8},g);
  
  
  const r=mk('rect',{x:xs[i]-40,y:py(m)+4,width:80,height:py(0)-py(m)-4,fill:fills[i],stroke:strokes[i],'stroke-width':7},g);
  
  
  const t=mk('text',{x:xs[i],y:2489,'font-size':37,'font-weight':'bold','text-anchor':'middle',fill:'#111'},g);
  t.textContent=jGroups[i];
  
  
  const tk=mk('line',{x1:xs[i],x2:xs[i],y1:py(0),y2:py(0)+13,stroke:'#111','stroke-width':4.5},g);
  
  
 });
 const ya=mk('line',{x1:1406,x2:1406,y1:py(10)-2,y2:py(0)+2.3,stroke:'#111','stroke-width':4.5},g);
 
 
 const xa=mk('line',{x1:1404,x2:1706,y1:py(0),y2:py(0),stroke:'#111','stroke-width':4.5},g);
 
 
 jYTicks.forEach(v=>{
  const l=mk('line',{x1:1392,x2:1406,y1:py(v),y2:py(v),stroke:'#111','stroke-width':4.5},g);
  
  
  const t=mk('text',{x:1388,y:py(v)+12,'font-size':34,'font-weight':'bold','text-anchor':'end',fill:'#111'},g);
  t.textContent=String(v);
  
  
 });
 const s=mk('line',{x1:xs[0],x2:xs[1],y1:1993,y2:1993,stroke:'#111','stroke-width':4.5},g);
 
 
 const st=mk('text',{x:(xs[0]+xs[1])/2,y:1993,'font-size':44,'font-weight':'bold','text-anchor':'middle',fill:'#111'},g);
 st.textContent='***';
 
 
})();
</script>
</svg>
</body></html>
